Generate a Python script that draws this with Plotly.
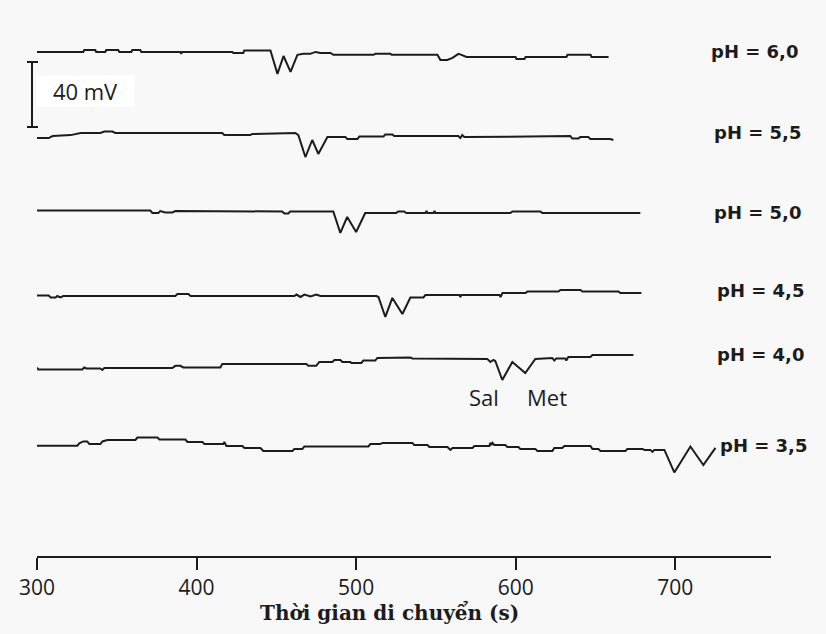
import plotly.graph_objects as go

# Electropherograms of Sal / Met at different buffer pH, stacked with offsets.
ph_labels = ["pH = 6,0", "pH = 5,5", "pH = 5,0", "pH = 4,5", "pH = 4,0", "pH = 3,5"]
offsets_mv = [310.2, 257.2, 212.3, 160.3, 114.8, 67.9]

# migration time (s) and detector signal relative to each baseline (mV)
time_60 = [300, 329.0, 329.6, 336.5, 337.1, 342.8, 343.4, 350.9, 351.6, 359.1, 359.7, 364.7, 365.4,
           389.8, 390.4, 391.0, 422.4, 423.0, 429.3, 429.9, 446.3, 450.7, 454.5, 458.9, 463.2, 467.0,
           471.3, 474.5, 477.6, 483.9, 485.8, 510.9, 512.1, 521.5, 522.2, 550.9, 552.8, 557.2, 560.4,
           564.1, 566.0, 569.2, 599.9, 600.5, 605.5, 606.2, 631.8, 632.5, 646.9, 647.5, 658.2]
sig_60 = [0, 0, 1.2, 1.2, 0, 0, 1.2, 1.2, 0, 0, 1.2, 1.2, 0,
          0, -1.2, 0, 0, -0.6, -0.6, 0.9, 0.9, -13.5, -2.5, -12.3, -1.8, -1.2,
          -1.2, 0, -0.6, -0.6, -1.8, -1.8, -1.2, -1.2, -1.8, -1.8, -4.9, -4.9, -3.7,
          -1.2, -1.8, -3.1, -3.1, -4.3, -4.3, -3.1, -3.1, -1.8, -1.8, -3.1, -3.1]

time_55 = [300, 307.3, 309.8, 321.1, 327.4, 339.7, 342.2, 347.2, 349.1, 371.0, 416.1, 417.4, 433.7,
           434.9, 461.9, 463.8, 468.2, 472.5, 476.3, 482.0, 493.2, 494.5, 500.8, 502.0, 517.1, 518.3,
           522.7, 523.9, 564.0, 565.3, 566.5, 567.8, 634.2, 635.5, 639.2, 640.5, 645.5, 646.8, 659.3, 661.2]
sig_55 = [0, 0, 1.2, 1.8, 3.1, 3.1, 4.0, 4.0, 3.1, 3.1, 3.1, 1.8, 1.8,
          2.5, 3.1, 1.8, -11.7, -1.2, -9.8, 0.6, 0.6, -0.6, -0.6, 0.9, 0.9, 2.2,
          2.2, 1.2, 1.2, 0, 1.8, 0.6, 1.2, -0.3, -0.3, 0.6, 0.6, -0.6, -0.6, -1.2]

time_50 = [300, 371.0, 372.3, 376.0, 377.3, 380.4, 384.8, 386.7, 453.7, 455.0, 457.5, 458.7, 485.7,
           490.1, 494.4, 500.0, 505.7, 525.1, 526.3, 530.1, 531.4, 543.4, 544.1, 544.7, 548.5, 549.1,
           549.7, 596.7, 597.9, 615.5, 616.7, 678.1]
sig_50 = [0.3, 0.3, -1.2, -1.2, 0, -0.9, -0.9, 0, -0.3, -1.5, -1.5, -0.3, -0.3,
          -13.5, -3.7, -12.9, -1.2, -1.2, -0.3, -0.3, -1.2, -1.2, 0, -1.2, -1.2, 0,
          -1.2, -1.2, -0.3, -0.3, -1.2, -1.2]

time_45 = [300, 307.3, 308.6, 311.7, 312.7, 314.6, 316.5, 386.7, 388.0, 394.9, 396.2, 461.3, 462.6,
           465.1, 467.6, 471.4, 475.1, 477.6, 512.7, 514.0, 518.3, 522.7, 529.0, 534.0, 542.2, 543.4,
           564.7, 565.3, 566.0, 589.8, 590.5, 591.7, 606.2, 607.4, 626.8, 628.0, 640.6, 641.8, 664.4,
           665.6, 678.8]
sig_45 = [0, 0, -1.2, -1.2, -0.3, -1.2, -0.3, -0.3, 0.9, 0.9, -0.3, -0.3, 0.6,
          -0.9, 0.6, -0.6, 0.6, -0.3, -0.3, -0.9, -13.2, -1.5, -11.4, -1.2, -1.2, 0.3,
          0.3, -0.9, 0.3, 0.3, -0.9, 1.5, 1.5, 2.5, 2.5, 3.4, 3.4, 2.5, 2.5,
          1.5, 1.5]

time_40 = [300, 300.8, 328.4, 329.6, 330.9, 339.7, 340.9, 342.2, 384.8, 386.7, 389.8, 391.7, 414.9,
           416.1, 468.8, 470.0, 475.0, 476.9, 485.1, 486.4, 490.1, 491.4, 496.4, 497.0, 503.3, 504.5,
           512.0, 513.3, 534.0, 535.2, 582.2, 584.1, 586.0, 587.2, 591.6, 597.9, 606.0, 612.3, 622.9,
           624.2, 625.4, 631.1, 631.7, 633.0, 646.8, 648.1, 673.8]
sig_40 = [1.2, 0, 0, 1.2, 0.6, 0.6, -0.3, 0.9, 0.9, 2.2, 2.2, 1.2, 1.2,
          3.4, 3.4, 2.2, 2.2, 4.6, 4.6, 5.8, 5.8, 4.6, 4.6, 4.0, 4.0, 5.5,
          5.5, 7.1, 7.4, 6.8, 6.5, 4.6, 5.8, 5.2, -6.5, 4.6, -2.2, 6.5, 7.1,
          5.5, 6.8, 6.8, 5.5, 7.7, 7.7, 8.9, 8.9]

time_35 = [300, 325.3, 326.5, 329.0, 331.5, 332.8, 339.7, 341.0, 344.1, 361.7, 362.9, 375.5, 376.7,
           393.0, 394.3, 403.7, 404.9, 416.8, 417.4, 418.7, 428.7, 430.0, 440.0, 441.9, 460.1, 461.3,
           466.3, 467.6, 507.7, 508.9, 515.2, 516.4, 535.2, 536.4, 544.7, 545.9, 557.2, 559.1, 560.4,
           572.9, 574.1, 583.5, 584.1, 584.8, 585.4, 586.6, 593.5, 594.8, 601.7, 602.9, 612.3, 613.6,
           623.0, 624.2, 629.2, 630.5, 646.8, 648.1, 651.8, 653.1, 668.8, 670.0, 679.4, 680.7, 684.4,
           685.7, 686.9, 693.2, 699.4, 709.5, 717.6, 725.2]
sig_35 = [0, 0, 1.4, 2.6, 2.6, 1.0, 1.0, 2.6, 3.5, 3.5, 5.0, 5.0, 3.8,
          3.8, 2.3, 2.3, 1.0, 1.0, 2.3, -0.2, -0.2, -1.4, -1.4, -3.3, -3.3, -2.0,
          -2.0, -0.5, -0.5, 1.0, 1.0, 1.7, 1.7, 0.4, 0.4, -0.8, -0.8, -2.6, -1.4,
          -1.4, -0.2, -0.2, 1.7, 0.4, 1.7, 0.4, 0.4, -0.8, -0.8, -2.0, -2.0, -3.3,
          -3.3, -1.4, -1.4, -0.2, -0.2, -2.0, -2.0, -3.3, -3.3, -2.0, -2.0, -2.6, -2.6,
          -3.8, -2.6, -2.6, -16.5, -0.5, -11.9, -1.4]

times = [time_60, time_55, time_50, time_45, time_40, time_35]
signals = [sig_60, sig_55, sig_50, sig_45, sig_40, sig_35]

# peak names (pH 4,0 run) and scale bar
peak_names = ["Sal", "Met"]
peak_times = [580.1, 619.6]
peak_label_mv = 97.8
scale_bar_mv = 40
scale_bar_base_mv = 264.0

INK = "#1c1c1c"
BG = "#f8f8f8"
Y_MAX = 342.15

fig = go.Figure()
for t, s, off in zip(times, signals, offsets_mv):
    fig.add_trace(go.Scatter(
        x=t, y=[off + v for v in s], mode="lines",
        line=dict(color=INK, width=2), showlegend=False, hoverinfo="skip"))

# pH labels at the right of each trace
label_left = [0.916, 0.919, 0.919, 0.924, 0.924, 0.928]
label_mv = [310.2, 260.9, 211.1, 163.1, 123.7, 67.7]
for txt, xl, ym in zip(ph_labels, label_left, label_mv):
    fig.add_annotation(text=txt, xref="paper", yref="y", x=xl, y=ym,
                       xanchor="left", yanchor="middle", showarrow=False,
                       font=dict(family="DejaVu Sans", size=18, color=INK, weight="bold"))

for name, tp in zip(peak_names, peak_times):
    fig.add_annotation(text=name, xref="x", yref="y", x=tp, y=peak_label_mv,
                       showarrow=False, xanchor="center", yanchor="middle",
                       font=dict(family="Open Sans", size=22, color=INK))

# 40 mV scale bar
bar_top = scale_bar_base_mv + scale_bar_mv
fig.add_shape(type="line", xref="paper", yref="y", x0=-0.0068, x1=-0.0068,
              y0=scale_bar_base_mv, y1=bar_top, line=dict(color=INK, width=2))
for yy in (scale_bar_base_mv, bar_top):
    fig.add_shape(type="line", xref="paper", yref="y", x0=-0.0136, x1=0.0014,
                  y0=yy, y1=yy, line=dict(color=INK, width=2))
fig.add_annotation(text=f"{scale_bar_mv} mV", xref="paper", yref="y", x=0.066,
                   y=scale_bar_base_mv + 22.2, showarrow=False, xanchor="center",
                   yanchor="middle", bgcolor="#ffffff", width=95, height=28,
                   font=dict(family="Open Sans", size=22, color=INK))

# x axis title
fig.add_annotation(text="Thời gian di chuyển (s)", xref="paper", yref="paper",
                   x=0.4796, y=-0.1015, showarrow=False, xanchor="center", yanchor="middle",
                   font=dict(family="DejaVu Serif", size=20, color=INK, weight="bold"))

fig.update_layout(
    width=826, height=634,
    margin=dict(l=37, r=55, t=0, b=78),
    paper_bgcolor=BG, plot_bgcolor=BG,
    xaxis=dict(range=[300, 760], tickvals=[300, 400, 500, 600, 700],
               showgrid=False, zeroline=False, showline=True, linecolor=INK, linewidth=2,
               ticks="outside", ticklen=12, tickwidth=2, tickcolor=INK,
               tickfont=dict(family="Open Sans", size=21, color=INK)),
    yaxis=dict(range=[0, Y_MAX], showgrid=False, zeroline=False, showline=False,
               showticklabels=False, ticks=""),
)

fig.write_html("out.html")
